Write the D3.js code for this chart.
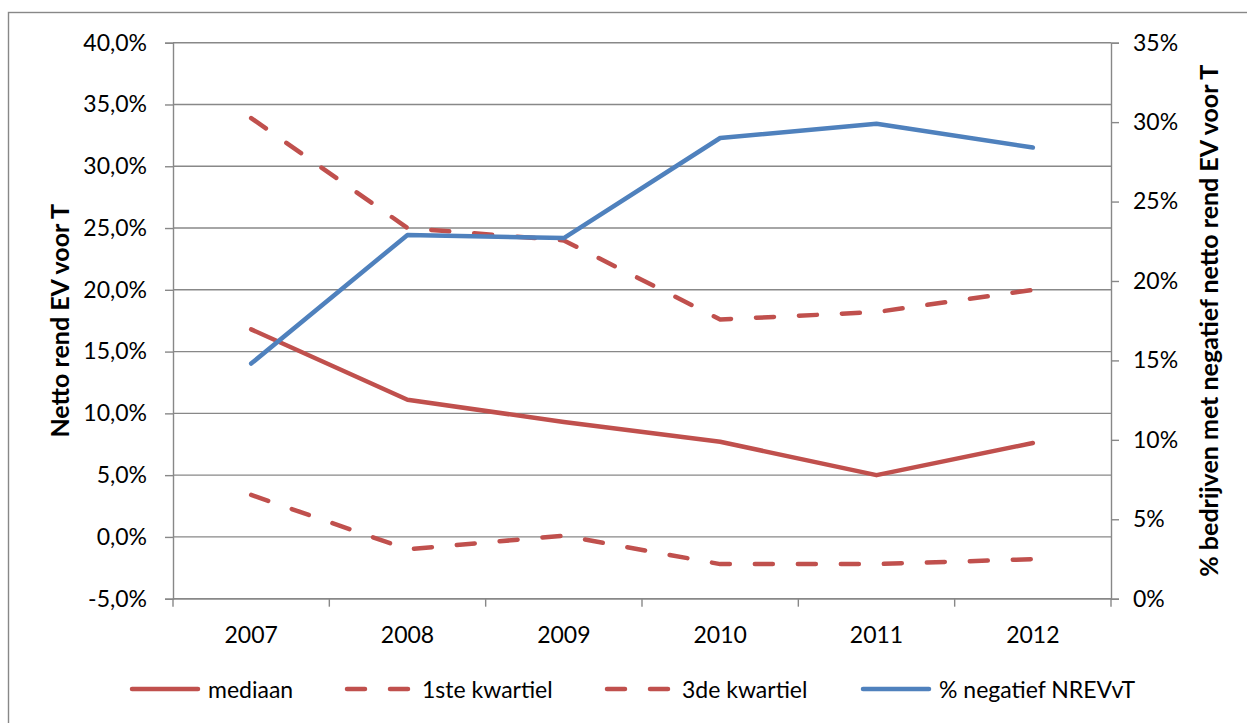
<!DOCTYPE html>
<html>
<head>
<meta charset="utf-8">
<script src="https://cdn.jsdelivr.net/npm/d3@7"></script>
<style>
  html, body { margin: 0; padding: 0; background: #ffffff; }
  svg { display: block; }
  text { font-family: Lato, "Open Sans", sans-serif; fill: #000; }
</style>
</head>
<body>
<svg id="chart" width="1247" height="723"></svg>
<script>
// Years on the category axis
const years = ["2007", "2008", "2009", "2010", "2011", "2012"];

// Net return on equity before tax (left axis, fraction)
const mediaan      = [0.168, 0.111, 0.093, 0.077, 0.050, 0.076];
const kwartiel1    = [0.034, -0.010, 0.001, -0.022, -0.022, -0.018];
const kwartiel3    = [0.339, 0.250, 0.240, 0.176, 0.182, 0.200];

// Share of companies with negative net return (right axis, fraction)
const negatief     = [0.148, 0.229, 0.227, 0.290, 0.299, 0.284];

// Axis ticks
const leftTicks  = [-0.05, 0, 0.05, 0.10, 0.15, 0.20, 0.25, 0.30, 0.35, 0.40];
const rightTicks = [0, 0.05, 0.10, 0.15, 0.20, 0.25, 0.30, 0.35];

const leftTitle  = "Netto rend EV voor T";
const rightTitle = "% bedrijven met negatief netto rend EV voor T";

const series = [
  { name: "mediaan",           values: mediaan,   axis: "left",  color: "#C0504D", dashed: false },
  { name: "1ste kwartiel",     values: kwartiel1, axis: "left",  color: "#C0504D", dashed: true },
  { name: "3de kwartiel",      values: kwartiel3, axis: "left",  color: "#C0504D", dashed: true },
  { name: "% negatief NREVvT", values: negatief,  axis: "right", color: "#4F81BD", dashed: false }
];

const svg = d3.select("#chart");
const gridColor = "#888888";
const plot = { left: 173, right: 1111, top: 42.7, bottom: 598.7 };
const fontSize = 23;
const titleSize = 25;
const dash = "18,25";
const lineW = 4.5;

// Outer chart frame
svg.append("rect")
  .attr("x", 8.5).attr("y", 12.5)
  .attr("width", 1260).attr("height", 740)
  .attr("fill", "none").attr("stroke", gridColor).attr("stroke-width", 1.4);

const x = d3.scalePoint().domain(years).range([plot.left, plot.right]).padding(0.5);
const band = d3.scaleBand().domain(years).range([plot.left, plot.right]);
const yL = d3.scaleLinear().domain([-0.05, 0.40]).range([plot.bottom, plot.top]);
const yR = d3.scaleLinear().domain([0, 0.35]).range([plot.bottom, plot.top]);

const fmtL = v => d3.format(".1f")(v * 100).replace("\u2212", "-").replace(".", ",") + "%";
const fmtR = v => d3.format(".0f")(v * 100) + "%";

// Horizontal gridlines from the left axis
svg.append("g")
  .selectAll("line")
  .data(leftTicks)
  .join("line")
  .attr("x1", plot.left).attr("x2", plot.right)
  .attr("y1", d => yL(d)).attr("y2", d => yL(d))
  .attr("stroke", gridColor).attr("stroke-width", 1.4);

// Left axis
const gL = svg.append("g")
  .attr("transform", `translate(${plot.left},0)`)
  .call(d3.axisLeft(yL).tickValues(leftTicks).tickFormat(fmtL).tickSize(8).tickPadding(18));

// Right axis
const gR = svg.append("g")
  .attr("transform", `translate(${plot.right},0)`)
  .call(d3.axisRight(yR).tickValues(rightTicks).tickFormat(fmtR).tickSize(8).tickPadding(14));

// Bottom axis: ticks sit on the category boundaries
const boundaries = years.map(d => band(d)).concat([plot.right]);
const gB = svg.append("g")
  .attr("transform", `translate(0,${plot.bottom})`);
gB.append("line")
  .attr("x1", plot.left).attr("x2", plot.right)
  .attr("stroke", gridColor).attr("stroke-width", 1.4);
gB.selectAll("line.tick")
  .data(boundaries)
  .join("line")
  .attr("class", "tick")
  .attr("x1", d => d).attr("x2", d => d)
  .attr("y1", 0).attr("y2", 8)
  .attr("stroke", gridColor).attr("stroke-width", 1.4);
gB.selectAll("text")
  .data(years)
  .join("text")
  .attr("x", d => x(d))
  .attr("y", 35)
  .attr("text-anchor", "middle")
  .attr("dominant-baseline", "central")
  .style("font-size", fontSize + "px")
  .text(d => d);

[gL, gR].forEach(g => {
  g.select(".domain").attr("stroke", gridColor).attr("stroke-width", 1.4);
  g.selectAll(".tick line").attr("stroke", gridColor).attr("stroke-width", 1.4);
  g.selectAll(".tick text")
    .style("font-size", fontSize + "px")
    .style("font-family", "Lato, sans-serif")
    .attr("fill", "#000");
});

// Axis titles
svg.append("text")
  .attr("transform", `translate(59,${(plot.top + plot.bottom) / 2}) rotate(-90)`)
  .attr("text-anchor", "middle")
  .attr("dominant-baseline", "central")
  .style("font-size", titleSize + "px")
  .style("font-weight", "bold")
  .text(leftTitle);

svg.append("text")
  .attr("transform", `translate(1208,${(plot.top + plot.bottom) / 2}) rotate(-90)`)
  .attr("text-anchor", "middle")
  .attr("dominant-baseline", "central")
  .style("font-size", titleSize + "px")
  .style("font-weight", "bold")
  .text(rightTitle);

// Series lines
series.forEach(s => {
  const yScale = s.axis === "left" ? yL : yR;
  const line = d3.line()
    .x((d, i) => x(years[i]))
    .y(d => yScale(d));
  svg.append("path")
    .datum(s.values)
    .attr("d", line)
    .attr("fill", "none")
    .attr("stroke", s.color)
    .attr("stroke-width", lineW)
    .attr("stroke-linecap", "round")
    .attr("stroke-linejoin", "round")
    .attr("stroke-dasharray", s.dashed ? dash : null);
});

// Legend: one entry per series, laid out in a single row
const legendY = 689;
const legendStarts = [132, 347, 607, 863];
const sampleLen = 66;
const legend = svg.append("g");
series.forEach((s, i) => {
  const g = legend.append("g").attr("transform", `translate(${legendStarts[i]},${legendY})`);
  g.append("line")
    .attr("x1", 0).attr("x2", s.dashed ? 62 : sampleLen)
    .attr("y1", 0).attr("y2", 0)
    .attr("stroke", s.color)
    .attr("stroke-width", lineW)
    .attr("stroke-linecap", "round")
    .attr("stroke-dasharray", s.dashed ? dash : null);
  g.append("text")
    .attr("x", s.dashed ? 75 : 76)
    .attr("y", 0)
    .attr("dominant-baseline", "central")
    .style("font-size", fontSize + "px")
    .text(s.name);
});
</script>
</body>
</html>
